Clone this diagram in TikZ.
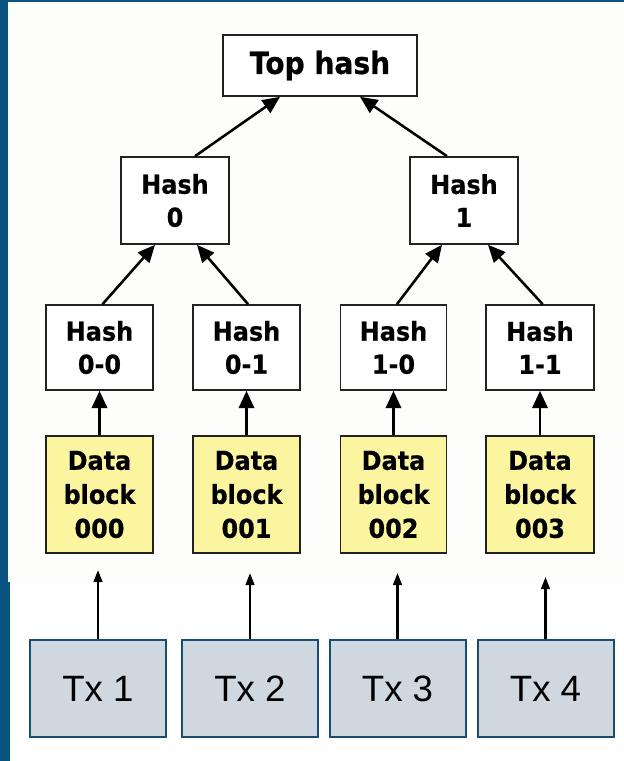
\documentclass[tikz,border=0pt]{standalone}
\usepackage{fontspec}
\setmainfont{Liberation Sans}
\newfontfamily\vbold[FakeStretch=0.92,FakeBold=0.6]{DejaVu Sans}
\usetikzlibrary{arrows.meta}
\definecolor{frameblue}{RGB}{10,84,130}
\definecolor{panelbg}{RGB}{253,254,252}
\definecolor{datayellow}{RGB}{251,245,160}
\definecolor{txfill}{RGB}{208,216,223}
\definecolor{txedge}{RGB}{24,78,116}
\definecolor{boxedge}{RGB}{34,34,34}
\tikzset{
  hashbox/.style={draw=boxedge, line width=1.2pt, fill=white, inner sep=0pt,
    align=center, font=\vbold\bfseries\fontsize{19.5}{24.75}\selectfont},
  databox/.style={hashbox, fill=datayellow, font=\vbold\bfseries\fontsize{19.5}{25.5}\selectfont},
  txbox/.style={draw=txedge, line width=1.5pt, fill=txfill, inner sep=0pt,
    minimum width=102pt, minimum height=72.75pt, font=\fontsize{27.5}{30}\selectfont},
  treearrow/.style={line width=1.9pt, -{Triangle[length=13pt,width=11.5pt]}},
  txarrow/.style={line width=1.6pt, -{Triangle[length=9pt,width=6.5pt]}}
}
\begin{document}
\begin{tikzpicture}[x=0.75pt,y=-0.75pt]
\useasboundingbox (0,0) rectangle (624,761);
% frame and panels
\fill[frameblue] (0,0) rectangle (624,761);
\fill[panelbg] (8,2) rectangle (624,582);
\fill[white] (10,582) rectangle (624,761);

% tree of hashes
\node[hashbox, minimum width=145.5pt, minimum height=45.75pt,
  font=\vbold\bfseries\fontsize{22.9}{26}\selectfont] (top) at (320,65.5) {Top hash};
\node[hashbox, minimum width=81pt, minimum height=65.25pt] (h0) at (175,200.5) {Hash\\0};
\node[hashbox, minimum width=81pt, minimum height=65.25pt] (h1) at (464,200.5) {Hash\\1};
\node[hashbox, minimum width=80.25pt, minimum height=63.75pt] (h00) at (99.5,347.5) {Hash\\0-0};
\node[hashbox, minimum width=80.25pt, minimum height=63.75pt] (h01) at (246.5,347.5) {Hash\\0-1};
\node[hashbox, minimum width=79.5pt, minimum height=63.75pt] (h10) at (393.5,347.5) {Hash\\1-0};
\node[hashbox, minimum width=81pt, minimum height=63.75pt] (h11) at (540,347.5) {Hash\\1-1};

% data blocks
\node[databox, minimum width=80.25pt, minimum height=87.75pt] (d0) at (99.5,494.5) {Data\\block\\000};
\node[databox, minimum width=80.25pt, minimum height=87.75pt] (d1) at (246.5,494.5) {Data\\block\\001};
\node[databox, minimum width=79.5pt, minimum height=87.75pt] (d2) at (393.5,494.5) {Data\\block\\002};
\node[databox, minimum width=81pt, minimum height=87.75pt] (d3) at (540,494.5) {Data\\block\\003};

% transactions
\node[txbox] (t1) at (98,688.5) {Tx 1};
\node[txbox] (t2) at (250,688.5) {Tx 2};
\node[txbox] (t3) at (397.5,688.5) {Tx 3};
\node[txbox] (t4) at (545.5,688.5) {Tx 4};

% free ends of the transaction arrows
\coordinate (e1) at (98,570);
\coordinate (e2) at (250,573);
\coordinate (e3) at (397.5,573);
\coordinate (e4) at (545.5,577);

% hash links
\draw[treearrow] ([xshift=15pt]h0.north) -- ([xshift=-30pt]top.south);
\draw[treearrow] ([xshift=-12.75pt]h1.north) -- ([xshift=30pt]top.south);
\draw[treearrow] ([xshift=2.25pt]h00.north) -- ([xshift=-15pt]h0.south);
\draw[treearrow] ([xshift=1.2pt]h01.north) -- ([xshift=16.5pt]h0.south);
\draw[treearrow] ([xshift=2.6pt]h10.north) -- ([xshift=-16.5pt]h1.south);
\draw[treearrow] ([xshift=2pt]h11.north) -- ([xshift=18pt]h1.south);

\draw[treearrow] (d0.north) -- (h00.south);
\draw[treearrow] (d1.north) -- (h01.south);
\draw[treearrow] (d2.north) -- (h10.south);
\draw[treearrow] (d3.north) -- (h11.south);

% transaction arrows
\draw[txarrow] (t1.north) -- (e1);
\draw[txarrow] (t2.north) -- (e2);
\draw[txarrow] (t3.north) -- (e3);
\draw[txarrow] (t4.north) -- (e4);
\end{tikzpicture}
\end{document}
